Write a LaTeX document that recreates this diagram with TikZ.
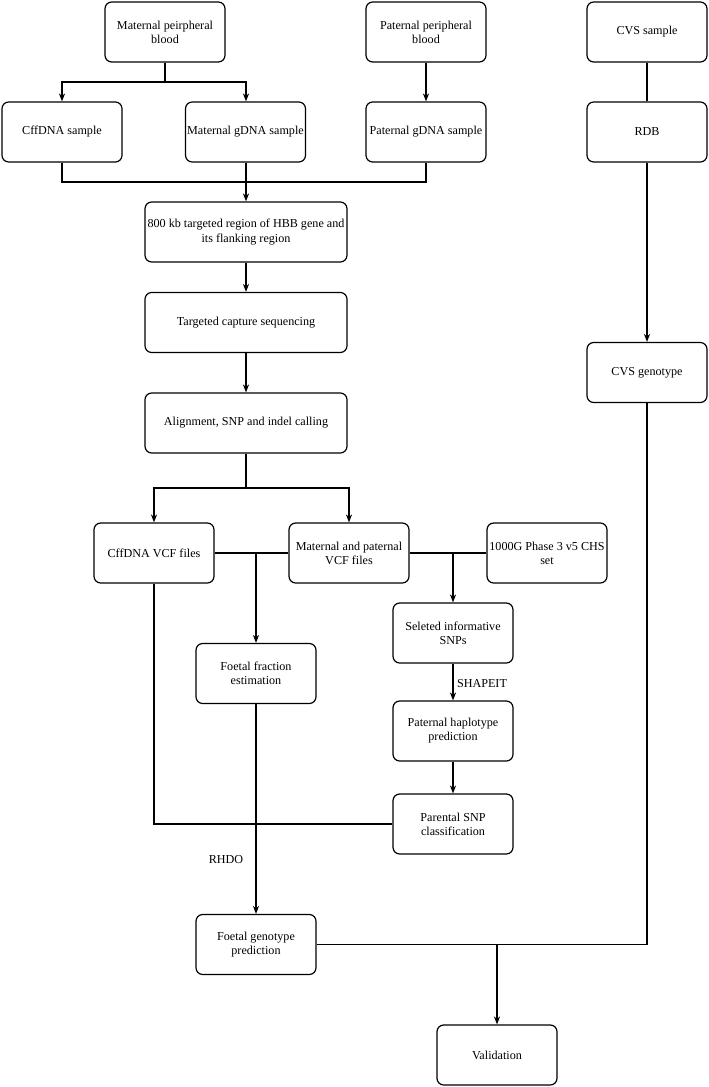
\documentclass[tikz,border=0pt]{standalone}
\usepackage{fontspec}
\setmainfont{Liberation Serif}
\usetikzlibrary{arrows.meta,calc}
\begin{document}
\begin{tikzpicture}[x=0.75pt,y=-0.75pt,
  box/.style={draw, rounded corners=5pt, line width=0.9pt, align=center,
    minimum width=90pt, minimum height=45pt, inner sep=1pt,
    font=\fontsize{9.1}{10.6}\selectfont},
  widebox/.style={box, minimum width=151.5pt},
  conn/.style={line width=0.9pt},
  arr/.style={conn, -{Stealth[length=6pt,width=4.6pt]}},
  lbl/.style={font=\fontsize{9.1}{10.6}\selectfont, inner sep=0pt}]
\useasboundingbox (0,0) rectangle (709,1087);
% nodes
\node[box] (mpb) at (165,32) {Maternal peirpheral\\blood};
\node[box] (ppb) at (426,32) {Paternal peripheral\\blood};
\node[box] (cvs) at (647,32) {CVS sample};
\node[box] (cff) at (62,132) {CffDNA sample};
\node[box] (mg) at (245.5,132) {Maternal gDNA sample};
\node[box] (pg) at (426,132) {Paternal gDNA sample};
\node[box] (rdb) at (647,132) {RDB};
\node[widebox] (r800) at (246,232) {800 kb targeted region of HBB gene and\\its flanking region};
\node[widebox] (tcs) at (246,322.5) {Targeted capture sequencing};
\node[widebox] (aln) at (246,423) {Alignment, SNP and indel calling};
\node[box] (cvsg) at (647,372.5) {CVS genotype};
\node[box] (cffvcf) at (154,553) {CffDNA VCF files};
\node[box] (mpvcf) at (349,553) {Maternal and paternal\\VCF files};
\node[box] (g1000) at (547,553) {1000G Phase 3 v5 CHS\\set};
\node[box] (sel) at (453,633) {Seleted informative\\SNPs};
\node[box] (ffe) at (256,673.5) {Foetal fraction\\estimation};
\node[box] (phap) at (453,731) {Paternal haplotype\\prediction};
\node[box] (psnp) at (453,824) {Parental SNP\\classification};
\node[box] (fgp) at (256,944.5) {Foetal genotype\\prediction};
\node[box] (val) at (497,1055) {Validation};
% labels
\node[lbl] (shape) at (482,684) {SHAPEIT};
\node[lbl] (rhdo) at (226,860) {RHDO};
% junction coordinates
\coordinate (j1) at (165,82);
\coordinate (j2) at (246,182);
\coordinate (j3) at (246,488);
\coordinate (j4) at (256,553);
\coordinate (j5) at (453,553);
\coordinate (j6) at (497,944.5);
% connectors
\draw[conn] (mpb.south) -- (j1);
\draw[arr] (j1) -| (cff.north);
\draw[arr] (j1) -| (mg.north -| 246,0);
\draw[arr] (ppb) -- (pg);
\draw[conn] (cvs) -- (rdb);
\draw[conn] (cff.south) |- (j2) -| (pg.south);
\draw[arr] (mg.south -| j2) -- (r800.north);
\draw[arr] (r800) -- (tcs);
\draw[arr] (tcs) -- (aln);
\draw[conn] (aln.south) -- (j3);
\draw[arr] (j3) -| (cffvcf.north);
\draw[arr] (j3) -| (mpvcf.north);
\draw[conn] (cffvcf.east) -- (mpvcf.west);
\draw[arr] (j4) -- (ffe.north);
\draw[conn] (mpvcf.east) -- (g1000.west);
\draw[arr] (j5) -- (sel.north);
\draw[arr] (sel) -- (phap);
\draw[arr] (phap) -- (psnp);
\draw[conn] (cffvcf.south) |- (psnp.west);
\draw[arr] (ffe) -- (fgp);
\draw[arr] (rdb) -- (cvsg);
\draw[conn] (cvsg.south) |- (fgp.east);
\draw[arr] (j6) -- (val.north);
\end{tikzpicture}
\end{document}
